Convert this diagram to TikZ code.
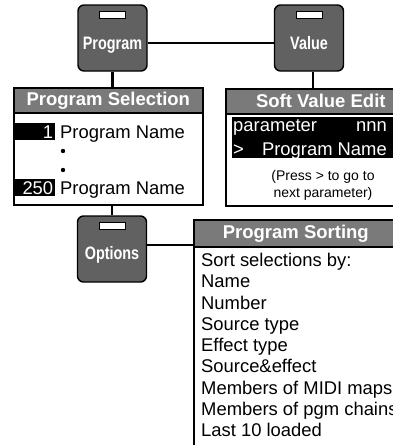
\documentclass[tikz,border=0pt]{standalone}
\usepackage{fontspec}
\setmainfont{Liberation Sans}
\usetikzlibrary{positioning}

\tikzset{
  btn/.style={draw, line width=1.4pt, fill=black!62, rounded corners=6pt,
    minimum width=69pt, minimum height=66pt, inner sep=0pt},
  slot/.style={draw, line width=0.8pt, fill=white, minimum width=26pt,
    minimum height=7pt, inner sep=0pt},
  btntext/.style={text=white, inner sep=0pt, anchor=base,
    font=\bfseries\fontsize{18}{18}\selectfont},
  panel/.style={draw, line width=1.6pt, fill=white, inner sep=0pt},
  head/.style={draw, line width=1.6pt, fill=black!52, text=white, inner sep=0pt,
    font=\bfseries\fontsize{18.5}{18.5}\selectfont},
  txt/.style={inner sep=0pt, anchor=base west, font=\fontsize{18.4}{22}\selectfont},
  small/.style={inner sep=0pt, anchor=base, font=\fontsize{14}{16}\selectfont},
  numbox/.style={fill=black, text=white, inner sep=2pt, text width=36pt,
    align=right, minimum height=17pt, anchor=base west,
    font=\fontsize{18.4}{22}\selectfont},
  wire/.style={line width=2.6pt}
}

\begin{document}
\begin{tikzpicture}[x=1pt,y=-1pt]
\useasboundingbox (0,0) rectangle (393,445);

\node[btn] (prog) at (112.5,38) {};
\node[slot] (progslot) at ([yshift=-11pt]prog.north) {};
\node[btntext] (progtxt) at ([yshift=-11.5pt]prog.center) {\scalebox{0.8}[1]{Program}};

\node[btn] (val) at (309,38) {};
\node[slot] (valslot) at ([yshift=-11pt]val.north) {};
\node[btntext] (valtxt) at ([yshift=-11.5pt]val.center) {\scalebox{0.8}[1]{Value}};

\node[btn] (opt) at (112,249) {};
\node[slot] (optslot) at ([yshift=-10.5pt]opt.north) {};
\node[btntext] (opttxt) at ([yshift=-10.5pt]opt.center) {\scalebox{0.8}[1]{Options}};

\node[panel, minimum width=189pt, minimum height=117pt, anchor=north west] (selbox) at (13,87) {};
\node[head, minimum width=189pt, minimum height=25pt, anchor=north] (selhead) at (selbox.north) {Program Selection};
\node[numbox] (num1) at (15,138) {1};
\node[txt] (name1) at (60,138) {Program Name};
\fill (63,151) circle (2.2pt) (63,170) circle (2.2pt);
\node[numbox] (num250) at (15,194) {250};
\node[txt] (name250) at (60,194) {Program Name};

\node[panel, minimum width=190pt, minimum height=117pt, anchor=north west] (svbox) at (225,88) {};
\node[head, minimum width=190pt, minimum height=25pt, anchor=north] (svhead) at (svbox.north) {Soft Value Edit};
\node[fill=black, minimum width=190pt, minimum height=41pt, anchor=north west, inner sep=0pt] (band) at (232,117) {};
\node[txt, text=white] (param) at (233,131.5) {parameter};
\node[txt, text=white, anchor=base east] (nnn) at (387,131.5) {nnn};
\node[txt, text=white] (gt) at (233,155) {>};
\node[txt, text=white, anchor=base east] (pname) at (387,155) {Program Name};
\node[small] (press) at (323,180) {(Press > to go to};
\node[small] (next) at (323,197) {next parameter)};

\node[panel, minimum width=204pt, minimum height=240pt, anchor=north west] (sortbox) at (193,219) {};
\node[head, minimum width=204pt, minimum height=27pt, anchor=north] (sorthead) at (sortbox.north) {Program Sorting};
\foreach \t [count=\i] in {{Sort selections by:},Name,Number,Source type,Effect type,
    Source\&effect,Members of MIDI maps,Members of pgm chains,Last 10 loaded}
  \node[txt] (sort\i) at (201,{266.5+21.25*(\i-1)}) {\t};

\draw[wire] ([yshift=-5pt]prog.east) -- ([yshift=-5pt]val.west);
\draw[wire] (prog.south) -- (prog.south |- selbox.north);
\draw[wire] ([xshift=4pt]val.south) -- ([xshift=4pt]val.south |- svbox.north);
\draw[wire] (opt.north) -- (opt.north |- selbox.south);
\draw[wire] ([yshift=4pt]opt.east) -- ([yshift=4pt]opt.east -| sortbox.west);

\end{tikzpicture}
\end{document}
